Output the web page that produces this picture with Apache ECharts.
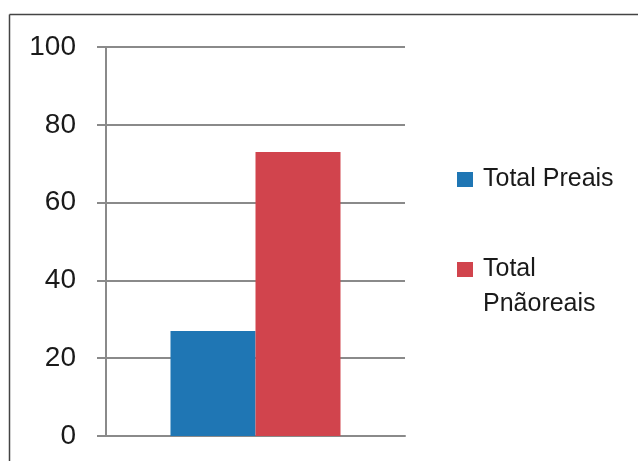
<!DOCTYPE html>
<html>
<head>
<meta charset="utf-8">
<script src="https://cdn.jsdelivr.net/npm/echarts@6/dist/echarts.min.js"></script>
<style>html,body{margin:0;padding:0;background:#fff}#c{width:638px;height:461px}</style>
</head>
<body>
<div id="c"></div>
<script>
var categories = ['Total'];
var seriesNames = ['Total Preais', 'Total Pnãoreais'];
var preais = [27];
var pnaoreais = [73];
var yTicks = [0, 20, 40, 60, 80, 100];

var chart = echarts.init(document.getElementById('c'), null, {renderer: 'canvas'});
var gridColor = '#8a8a8a';
var option = {
  animation: false,
  backgroundColor: '#fff',
  grid: {left: 106, right: 233, top: 47, bottom: 25, containLabel: false},
  xAxis: {
    type: 'category',
    data: categories,
    axisLine: {show: true, lineStyle: {color: gridColor, width: 2}},
    axisTick: {show: false},
    axisLabel: {show: false}
  },
  yAxis: {
    type: 'value',
    min: yTicks[0],
    max: yTicks[yTicks.length - 1],
    interval: 20,
    axisLine: {show: true, lineStyle: {color: gridColor, width: 2}},
    axisTick: {show: true, length: 9, lineStyle: {color: gridColor, width: 2}},
    axisLabel: {margin: 30, fontSize: 28, color: '#1a1a1a', fontFamily: 'Liberation Sans'},
    splitLine: {show: true, lineStyle: {color: gridColor, width: 2}}
  },
  legend: [
    {
      data: [seriesNames[0]],
      left: 457, top: 162, padding: 0,
      itemWidth: 16, itemHeight: 15, icon: 'rect',
      textStyle: {fontSize: 25, color: '#1a1a1a', fontFamily: 'Liberation Sans', lineHeight: 35, padding: [0,0,0,5]}
    },
    {
      data: [seriesNames[1]],
      left: 457, top: 217, padding: 0,
      itemWidth: 16, itemHeight: 15, icon: 'rect',
      formatter: function (n) { return '\n' + n.replace(' ', '\n'); },
      textStyle: {fontSize: 25, color: '#1a1a1a', fontFamily: 'Liberation Sans', lineHeight: 35, padding: [0,0,0,5]}
    }
  ],
  series: [
    {name: seriesNames[0], type: 'bar', data: preais, barWidth: 85, barGap: '0%', itemStyle: {color: '#1f76b4'}},
    {name: seriesNames[1], type: 'bar', data: pnaoreais, barWidth: 85, barGap: '0%', itemStyle: {color: '#d1444d'}}
  ],
  graphic: [
    {type: 'line', shape: {x1: 9.5, y1: 14.5, x2: 638, y2: 14.5}, style: {stroke: '#444', lineWidth: 1.5}},
    {type: 'line', shape: {x1: 9.5, y1: 14.5, x2: 9.5, y2: 461}, style: {stroke: '#444', lineWidth: 1.5}}
  ]
};
chart.setOption(option);
</script>
</body>
</html>
